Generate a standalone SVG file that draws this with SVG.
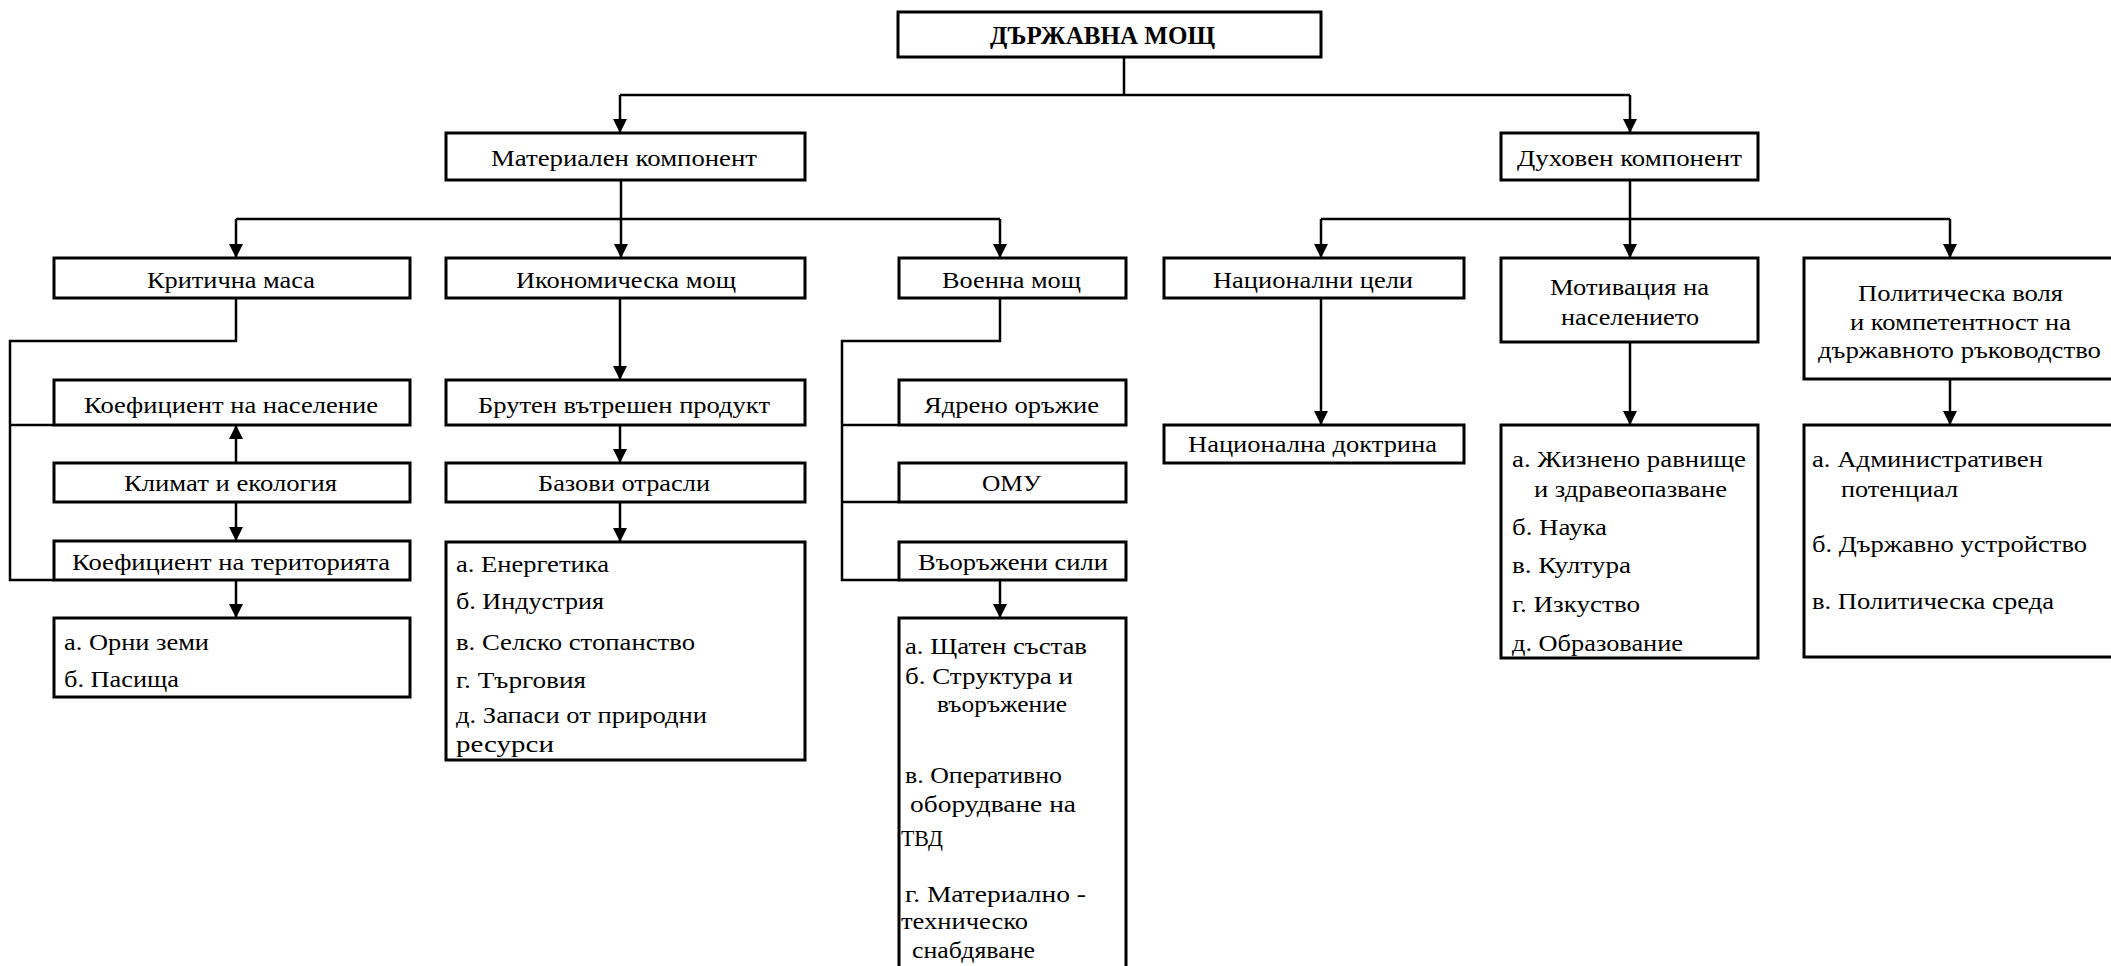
<svg xmlns="http://www.w3.org/2000/svg" width="2111" height="966" viewBox="0 0 2111 966">
<defs>
<style>
.b{fill:#fff;stroke:#000;stroke-width:3}
.c{fill:none;stroke:#000;stroke-width:2.5}
.a{marker-end:url(#ah)}
text{font-family:"Liberation Serif","Times New Roman",serif;font-size:24px;fill:#000}
.h{font-weight:bold;font-size:25px}
</style>
<marker id="ah" viewBox="0 0 14 14" refX="14" refY="7" markerWidth="14" markerHeight="14" markerUnits="userSpaceOnUse" orient="auto"><path d="M0,0 L14,7 L0,14 z" fill="#000"/></marker>
</defs>
<rect width="2111" height="966" fill="#fff"/>
<g id="connectors">
<path class="c" d="M1124,57 V95 M620,95 H1630"/>
<path class="c a" d="M620,95 V133"/>
<path class="c a" d="M1630,95 V133"/>
<path class="c" d="M621,180 V219 M236,219 H1000"/>
<path class="c a" d="M236,219 V258"/>
<path class="c a" d="M621,219 V258"/>
<path class="c a" d="M1000,219 V258"/>
<path class="c" d="M1630,180 V219 M1321,219 H1950"/>
<path class="c a" d="M1321,219 V258"/>
<path class="c a" d="M1630,219 V258"/>
<path class="c a" d="M1950,219 V258"/>
<path class="c" d="M236,298 V341 H10 V580 H54 M10,425 H54"/>
<path class="c a" d="M236,463 V425"/>
<path class="c a" d="M236,502 V541"/>
<path class="c a" d="M236,580 V618"/>
<path class="c a" d="M620,298 V380"/>
<path class="c a" d="M620,425 V463"/>
<path class="c a" d="M620,502 V542"/>
<path class="c" d="M1000,298 V341 H842 V580 H899 M842,425 H899 M842,502 H899"/>
<path class="c a" d="M1000,580 V618"/>
<path class="c a" d="M1321,298 V425"/>
<path class="c a" d="M1630,342 V425"/>
<path class="c a" d="M1950,379 V425"/>
</g>
<g id="n-root"><rect class="b" x="898" y="12" width="423" height="45"/><text class="h" x="990" y="44" textLength="225" lengthAdjust="spacingAndGlyphs">ДЪРЖАВНА МОЩ</text></g>
<g id="n-mat"><rect class="b" x="446" y="133" width="359" height="47"/><text x="491" y="166" textLength="266" lengthAdjust="spacingAndGlyphs">Материален компонент</text></g>
<g id="n-duh"><rect class="b" x="1501" y="133" width="257" height="47"/><text x="1517" y="166" textLength="225" lengthAdjust="spacingAndGlyphs">Духовен компонент</text></g>
<g id="n-krit"><rect class="b" x="54" y="258" width="356" height="40"/><text x="147" y="288" textLength="168" lengthAdjust="spacingAndGlyphs">Критична маса</text></g>
<g id="n-ikon"><rect class="b" x="446" y="258" width="359" height="40"/><text x="516" y="288" textLength="220" lengthAdjust="spacingAndGlyphs">Икономическа мощ</text></g>
<g id="n-voen"><rect class="b" x="899" y="258" width="227" height="40"/><text x="942" y="288" textLength="139" lengthAdjust="spacingAndGlyphs">Военна мощ</text></g>
<g id="n-nac"><rect class="b" x="1164" y="258" width="300" height="40"/><text x="1213" y="288" textLength="200" lengthAdjust="spacingAndGlyphs">Национални цели</text></g>
<g id="n-motiv"><rect class="b" x="1501" y="258" width="257" height="84"/><text x="1550" y="295" textLength="159" lengthAdjust="spacingAndGlyphs">Мотивация на</text><text x="1561" y="325" textLength="138" lengthAdjust="spacingAndGlyphs">населението</text></g>
<g id="n-polit"><rect class="b" x="1804" y="258" width="320" height="121"/><text x="1858" y="301" textLength="205" lengthAdjust="spacingAndGlyphs">Политическа воля</text><text x="1850" y="330" textLength="221" lengthAdjust="spacingAndGlyphs">и компетентност на</text><text x="1818" y="358" textLength="283" lengthAdjust="spacingAndGlyphs">държавното ръководство</text></g>
<g id="n-naselenie"><rect class="b" x="54" y="380" width="356" height="45"/><text x="84" y="413" textLength="294" lengthAdjust="spacingAndGlyphs">Коефициент на население</text></g>
<g id="n-klimat"><rect class="b" x="54" y="463" width="356" height="39"/><text x="124" y="491" textLength="213" lengthAdjust="spacingAndGlyphs">Климат и екология</text></g>
<g id="n-teritoria"><rect class="b" x="54" y="541" width="356" height="39"/><text x="72" y="570" textLength="318" lengthAdjust="spacingAndGlyphs">Коефициент на територията</text></g>
<g id="n-zemi"><rect class="b" x="54" y="618" width="356" height="79"/><text x="64" y="650" textLength="145" lengthAdjust="spacingAndGlyphs">а. Орни земи</text><text x="64" y="687" textLength="115" lengthAdjust="spacingAndGlyphs">б. Пасища</text></g>
<g id="n-bvp"><rect class="b" x="446" y="380" width="359" height="45"/><text x="478" y="413" textLength="292" lengthAdjust="spacingAndGlyphs">Брутен вътрешен продукт</text></g>
<g id="n-bazovi"><rect class="b" x="446" y="463" width="359" height="39"/><text x="538" y="491" textLength="172" lengthAdjust="spacingAndGlyphs">Базови отрасли</text></g>
<g id="n-otrasli"><rect class="b" x="446" y="542" width="359" height="218"/><text x="456" y="572" textLength="153" lengthAdjust="spacingAndGlyphs">а. Енергетика</text><text x="456" y="609" textLength="148" lengthAdjust="spacingAndGlyphs">б. Индустрия</text><text x="456" y="650" textLength="239" lengthAdjust="spacingAndGlyphs">в. Селско стопанство</text><text x="456" y="688" textLength="130" lengthAdjust="spacingAndGlyphs">г. Търговия</text><text x="456" y="723" textLength="251" lengthAdjust="spacingAndGlyphs">д. Запаси от природни</text><text x="456" y="752" textLength="98" lengthAdjust="spacingAndGlyphs">ресурси</text></g>
<g id="n-yadreno"><rect class="b" x="899" y="380" width="227" height="45"/><text x="924" y="413" textLength="175" lengthAdjust="spacingAndGlyphs">Ядрено оръжие</text></g>
<g id="n-omu"><rect class="b" x="899" y="463" width="227" height="39"/><text x="982" y="491" textLength="59" lengthAdjust="spacingAndGlyphs">ОМУ</text></g>
<g id="n-vs"><rect class="b" x="899" y="542" width="227" height="38"/><text x="918" y="570" textLength="190" lengthAdjust="spacingAndGlyphs">Въоръжени сили</text></g>
<g id="n-vs-list"><rect class="b" x="899" y="618" width="227" height="360"/><text x="905" y="654" textLength="182" lengthAdjust="spacingAndGlyphs">а. Щатен състав</text><text x="905" y="684" textLength="168" lengthAdjust="spacingAndGlyphs">б. Структура и</text><text x="937" y="712" textLength="130" lengthAdjust="spacingAndGlyphs">въоръжение</text><text x="905" y="783" textLength="157" lengthAdjust="spacingAndGlyphs">в. Оперативно</text><text x="910" y="812" textLength="166" lengthAdjust="spacingAndGlyphs">оборудване на</text><text x="901" y="846" textLength="42" lengthAdjust="spacingAndGlyphs">ТВД</text><text x="905" y="902" textLength="181" lengthAdjust="spacingAndGlyphs">г. Материално -</text><text x="901" y="929" textLength="127" lengthAdjust="spacingAndGlyphs">техническо</text><text x="912" y="958" textLength="123" lengthAdjust="spacingAndGlyphs">снабдяване</text></g>
<g id="n-doktrina"><rect class="b" x="1164" y="425" width="300" height="38"/><text x="1188" y="452" textLength="249" lengthAdjust="spacingAndGlyphs">Национална доктрина</text></g>
<g id="n-motiv-list"><rect class="b" x="1501" y="425" width="257" height="233"/><text x="1512" y="467" textLength="234" lengthAdjust="spacingAndGlyphs">а. Жизнено равнище</text><text x="1534" y="497" textLength="193" lengthAdjust="spacingAndGlyphs">и здравеопазване</text><text x="1512" y="535" textLength="95" lengthAdjust="spacingAndGlyphs">б. Наука</text><text x="1512" y="573" textLength="119" lengthAdjust="spacingAndGlyphs">в. Култура</text><text x="1512" y="612" textLength="128" lengthAdjust="spacingAndGlyphs">г. Изкуство</text><text x="1512" y="651" textLength="171" lengthAdjust="spacingAndGlyphs">д. Образование</text></g>
<g id="n-polit-list"><rect class="b" x="1804" y="425" width="320" height="232"/><text x="1812" y="467" textLength="231" lengthAdjust="spacingAndGlyphs">а. Административен</text><text x="1841" y="497" textLength="117" lengthAdjust="spacingAndGlyphs">потенциал</text><text x="1812" y="552" textLength="275" lengthAdjust="spacingAndGlyphs">б. Държавно устройство</text><text x="1812" y="609" textLength="242" lengthAdjust="spacingAndGlyphs">в. Политическа среда</text></g>
</svg>
